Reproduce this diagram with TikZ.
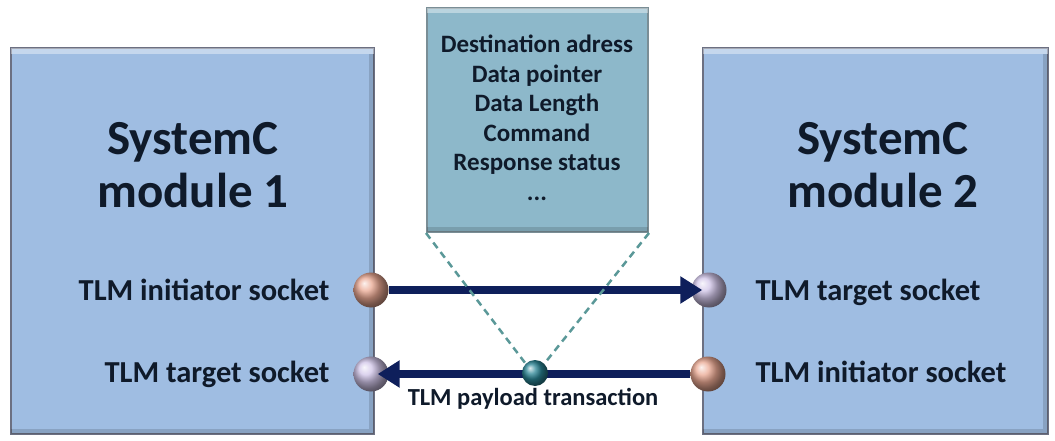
\documentclass[tikz,border=0pt]{standalone}
\usepackage{fontspec}
\setmainfont{Carlito}
\usetikzlibrary{arrows.meta,shadings}

\definecolor{modfill}{HTML}{9FBDE2}
\definecolor{modedge}{HTML}{6C7082}
\definecolor{payfill}{HTML}{8DB8CA}
\definecolor{payedge}{HTML}{7A8E96}
\definecolor{navy}{HTML}{0E1F5B}
\definecolor{ink}{HTML}{0F1A2A}
\definecolor{dashcol}{HTML}{5A9898}
\definecolor{initcol}{HTML}{EAA892}
\definecolor{targcol}{HTML}{D0C4E8}
\definecolor{paycol}{HTML}{2A8595}

\begin{document}
\begin{tikzpicture}[x=1pt,y=-1pt,
  module/.style={draw=modedge, line width=2.5pt, fill=modfill, inner sep=0pt},
  payloadbox/.style={draw=payedge, line width=2pt, fill=payfill, inner sep=0pt,
    minimum width=221pt, minimum height=224pt},
  title/.style={font=\fontsize{49}{53}\selectfont\bfseries, align=center, text=ink},
  socklabel/.style={font=\fontsize{30.5}{32}\selectfont\bfseries, text=ink},
  fieldtext/.style={font=\fontsize{25}{29.5}\selectfont\bfseries, align=center, text=ink},
  caption/.style={font=\fontsize{24.5}{26}\selectfont\bfseries, text=ink},
  sphere/.style={circle, minimum size=35pt, inner sep=0pt, shading=ball},
  initiator/.style={sphere, ball color=initcol},
  target/.style={sphere, ball color=targcol},
  link/.style={draw=navy, line width=8.5pt, -{Triangle[length=22pt,width=26pt]}, shorten >=-11pt},
  guide/.style={draw=dashcol, line width=2.5pt, dash pattern=on 7pt off 5pt},
  highlight/.style={fill=white, opacity=0.4},
  shade/.style={fill=black, opacity=0.14}
]
\useasboundingbox (0,0) rectangle (1055,441);
\fill[white] (0,0) rectangle (1055,441);

% the two SystemC modules
\node[module, minimum width=363pt, minimum height=386pt] (m1) at (192.5,241) {};
\node[module, minimum width=345pt, minimum height=386pt] (m2) at (875.5,241) {};
% bevel bands on the module boxes
\foreach \m in {m1,m2} {
  \fill[highlight] ([xshift=1.5pt,yshift=-1.5pt]\m.north west) rectangle ([xshift=-1.5pt,yshift=-7pt]\m.north east);
  \fill[shade] ([xshift=1.5pt,yshift=6pt]\m.south west) rectangle ([xshift=-1.5pt,yshift=1.5pt]\m.south east);
  \fill[shade] ([xshift=-6pt,yshift=-7pt]\m.north east) rectangle ([xshift=-1.5pt,yshift=6pt]\m.south east);
}

\node[title] (t1) at (193,165) {SystemC\\module 1};
\node[title] (t2) at (883,165) {SystemC\\module 2};

% generic payload fields
\node[payloadbox] (pb) at (537.5,120) {};
\fill[highlight] ([xshift=1pt,yshift=-1pt]pb.north west) rectangle ([xshift=-1pt,yshift=-6pt]pb.north east);
\fill[shade] ([xshift=1pt,yshift=6pt]pb.south west) rectangle ([xshift=-1pt,yshift=1pt]pb.south east);
\node[fieldtext] (fields) at (537,118) {Destination adress\\Data pointer\\Data Length\\Command\\Response status\\...};

% socket labels
\node[socklabel, anchor=base east] (l1i) at (333,300) {TLM initiator socket};
\node[socklabel, anchor=base east] (l1t) at (333,382) {TLM target socket};
\node[socklabel, anchor=base west] (l2t) at (752,300) {TLM target socket};
\node[socklabel, anchor=base west] (l2i) at (752,382) {TLM initiator socket};

% sockets
\node[initiator] (iL) at (371,290) {};
\node[target] (tL) at (371,374) {};
\node[target] (tR) at (709,290) {};
\node[initiator] (iR) at (708,374) {};

% transport paths
\draw[link] (iL) -- (tR);
\draw[link] (iR) -- (tL);

% the transaction object travelling on the path, tied to its field list
\node[sphere, minimum size=26pt, ball color=paycol] (pl) at (535,373) {};
\draw[guide] (pb.south west) -- (pl.north west);
\draw[guide] (pb.south east) -- (pl.north east);
\node[caption, anchor=base] (cap) at (533,405) {TLM payload transaction};
\end{tikzpicture}
\end{document}
